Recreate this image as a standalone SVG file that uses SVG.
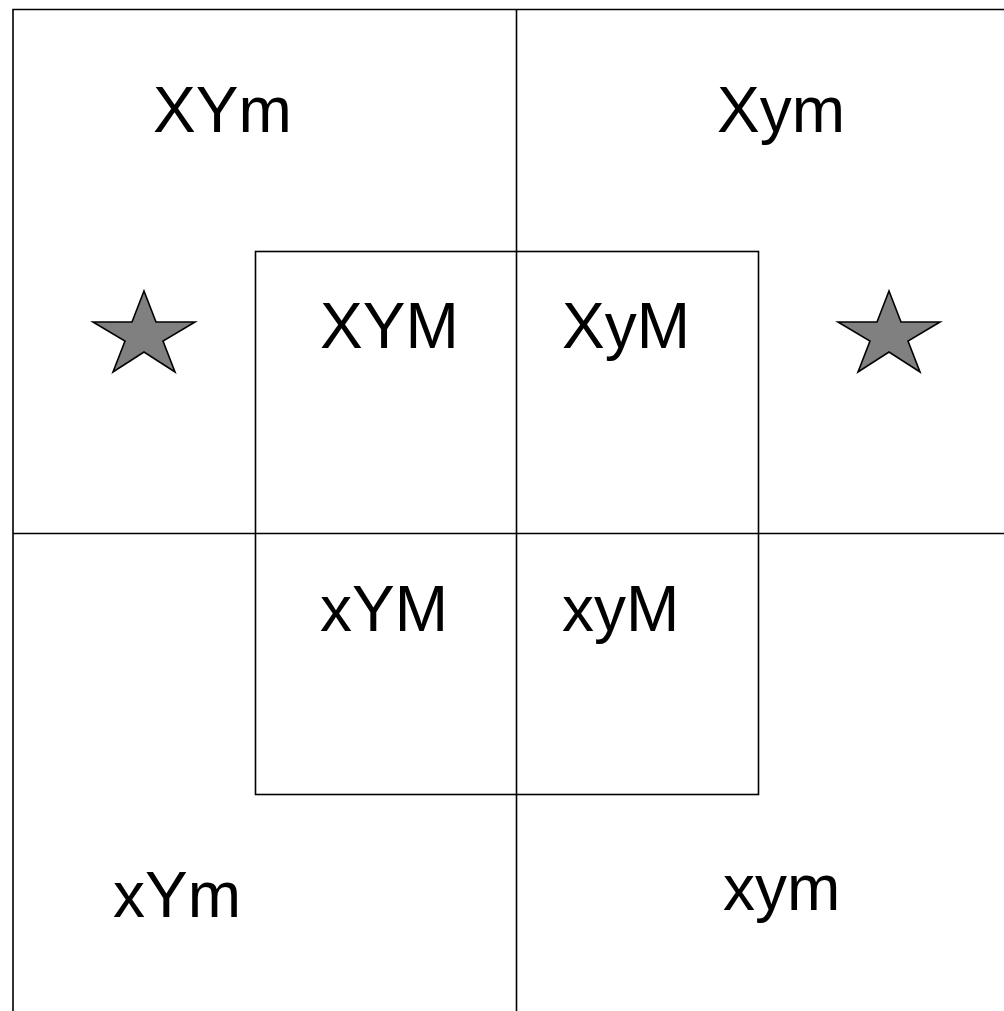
<svg xmlns="http://www.w3.org/2000/svg" width="1004" height="1011" viewBox="0 0 1004 1011">
<style>
.ln{stroke:#000;stroke-width:1.6;fill:none}
.lb{font-family:"Liberation Sans",Arial,sans-serif;font-size:64px;fill:#000}
.st{fill:#808080;stroke:#000;stroke-width:1.6;stroke-linejoin:miter}
</style>
<defs>
<polygon id="star" points="144,291 156,322 195,322 163,341 175,372 144,352 113,372 125,341 93,322 132,322"/>
</defs>
<rect width="1004" height="1011" fill="#fff"/>
<g id="connectors">
<path class="ln" d="M13,1011 V9.5 H1004"/>
<path class="ln" d="M516.5,9.5 V1011"/>
<path class="ln" d="M13,533.5 H1004"/>
</g>
<g id="inner-square"><rect class="ln" x="255.5" y="251.5" width="503" height="543"/></g>
<g id="star-left"><use href="#star" class="st"/></g>
<g id="star-right"><use href="#star" class="st" transform="translate(745,0)"/></g>
<g id="XYm"><text class="lb" x="153" y="132">XYm</text></g>
<g id="Xym"><text class="lb" x="717" y="132">Xym</text></g>
<g id="XYM"><text class="lb" x="320" y="348">XYM</text></g>
<g id="XyM"><text class="lb" x="562" y="348">XyM</text></g>
<g id="xYM"><text class="lb" x="320" y="631">xYM</text></g>
<g id="xyM"><text class="lb" x="562" y="631">xyM</text></g>
<g id="xYm"><text class="lb" x="113" y="917">xYm</text></g>
<g id="xym"><text class="lb" x="723" y="910">xym</text></g>
</svg>
